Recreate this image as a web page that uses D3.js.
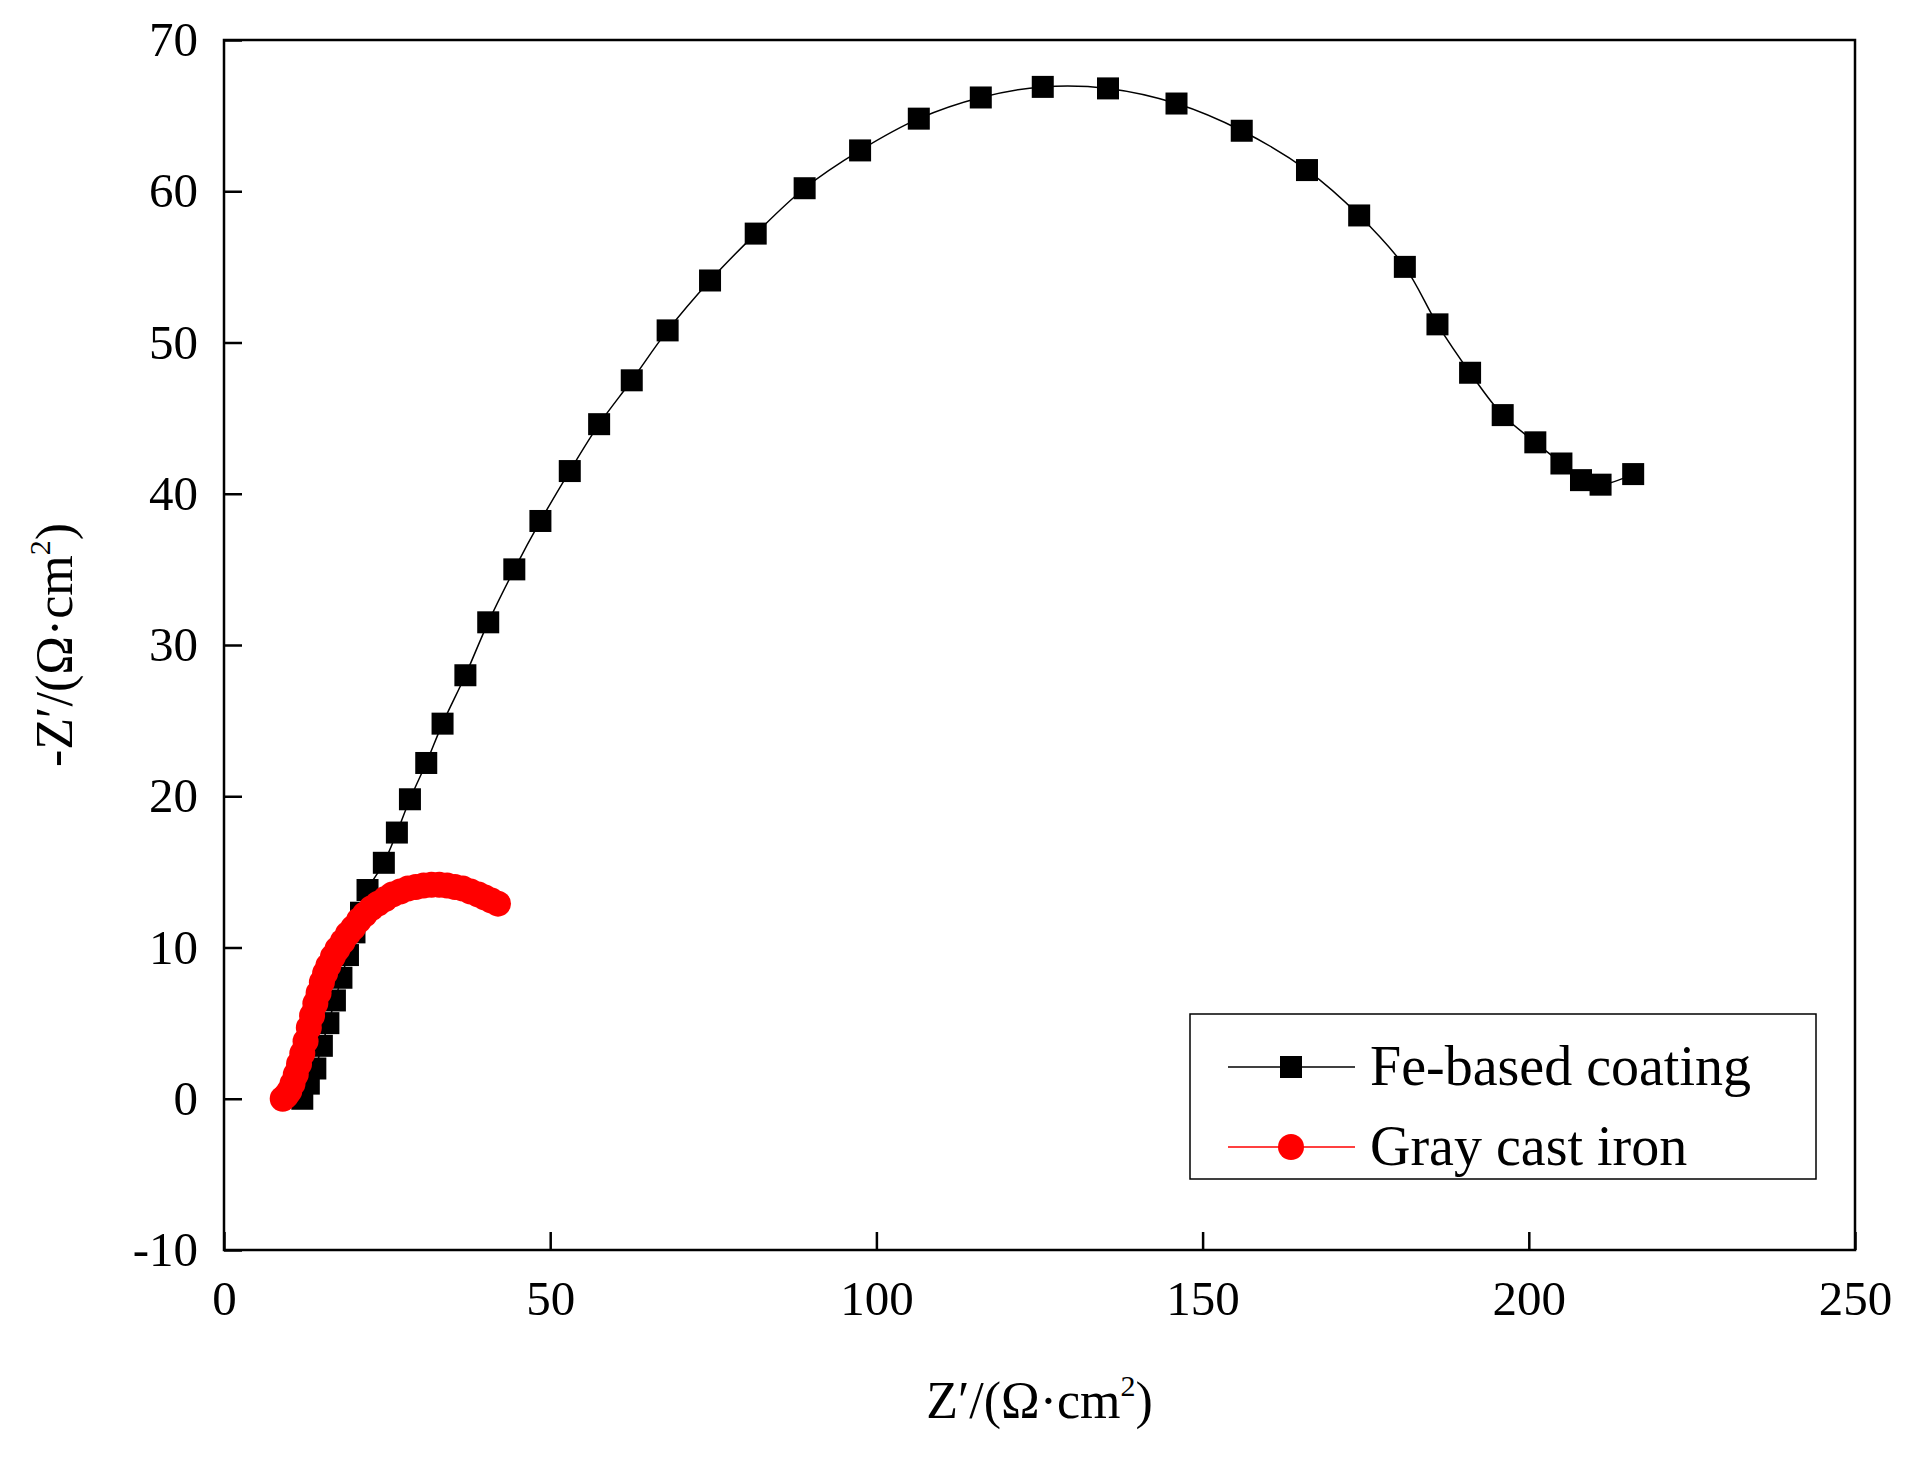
<!DOCTYPE html>
<html>
<head>
<meta charset="UTF-8">
<script src="https://cdn.jsdelivr.net/npm/d3@7"></script>
<style>
  body { margin: 0; background: #fff; }
  text { font-family: "Liberation Serif", "DejaVu Serif", serif; }
</style>
</head>
<body>
<script>
  // Fe-based coating
  const feX = [12,13,14,15,16,17,18,19,20,21,22,24.5,26.5,28.5,31,33.5,37,40.5,44.5,48.5,53,57.5,62.5,68,74.5,81.5,89,97.5,106.5,116,125.5,135.5,146,156,166,174,181,186,191,196,201,205,208,211,216];
  const feY = [0,1,2,3.5,5,6.5,8,9.5,11,12.3,13.8,15.6,17.6,19.8,22.2,24.8,28,31.5,35,38.2,41.5,44.6,47.5,50.8,54.1,57.2,60.2,62.7,64.8,66.2,66.9,66.8,65.8,64,61.4,58.4,55,51.2,48,45.2,43.4,42,40.9,40.6,41.3];
  // Gray cast iron
  const giX = [9,9.5,10,10.5,11,11.5,12,12.5,13,13.5,14,14.5,15,15.5,16,16.7,17.4,18.2,19,19.8,20.7,21.6,22.6,23.6,24.7,25.8,27,28.2,29.4,30.6,31.8,33,34.2,35.4,36.6,37.8,39,40,41,42];
  const giY = [0,0.2,0.5,1,1.6,2.3,3,3.8,4.7,5.5,6.3,7,7.7,8.3,8.8,9.4,9.9,10.4,10.9,11.3,11.8,12.2,12.6,12.9,13.2,13.5,13.7,13.9,14.0,14.1,14.15,14.15,14.1,14.0,13.9,13.7,13.5,13.3,13.1,12.9];
  const xTicks = [0,50,100,150,200,250];
  const yTicks = [-10,0,10,20,30,40,50,60,70];

  const W = 1910, H = 1462;
  const m = {left: 224, right: 1855, top: 40, bottom: 1250};
  const svg = d3.select('body').append('svg').attr('width', W).attr('height', H);
  const x = d3.scaleLinear().domain([0, 250]).range([m.left, m.right]);
  const y = d3.scaleLinear().domain([-10, 70]).range([m.bottom, m.top]);

  // frame
  svg.append('rect').attr('x', m.left).attr('y', m.top)
    .attr('width', m.right - m.left).attr('height', m.bottom - m.top)
    .attr('fill', 'none').attr('stroke', '#000').attr('stroke-width', 2.5);

  // ticks (inward)
  const gx = svg.append('g').attr('transform', `translate(0,${m.bottom})`);
  gx.call(d3.axisBottom(x).tickValues(d3.range(0, 251, 25)).tickSize(-10).tickFormat(''))
    .call(g => g.select('.domain').remove());
  gx.call(d3.axisBottom(x).tickValues(xTicks).tickSize(-18).tickPadding(30).tickFormat(d => String(d)))
    .call(g => g.select('.domain').remove());
  gx.selectAll('line').attr('stroke-width', 2.5);
  gx.selectAll('text').attr('font-size', 49).attr('fill', '#000');

  const gy = svg.append('g').attr('transform', `translate(${m.left},0)`);
  gy.call(d3.axisLeft(y).tickValues(d3.range(-10, 71, 5)).tickSize(-10).tickFormat(''))
    .call(g => g.select('.domain').remove());
  gy.call(d3.axisLeft(y).tickValues(yTicks).tickSize(-18).tickPadding(26).tickFormat(d => String(d)))
    .call(g => g.select('.domain').remove());
  gy.selectAll('line').attr('stroke-width', 2.5);
  gy.selectAll('text').attr('font-size', 49).attr('fill', '#000');

  // axis titles
  const xt = svg.append('text').attr('x', (m.left + m.right) / 2).attr('y', 1418)
    .attr('text-anchor', 'middle').attr('font-size', 52);
  xt.append('tspan').text('Z′/(Ω·cm');
  xt.append('tspan').text('2').attr('font-size', 30).attr('dy', -22);
  xt.append('tspan').text(')').attr('dy', 22);

  const yt = svg.append('text').attr('transform', `translate(72,${(m.top + m.bottom) / 2}) rotate(-90)`)
    .attr('text-anchor', 'middle').attr('font-size', 52);
  yt.append('tspan').text('-Z′/(Ω·cm');
  yt.append('tspan').text('2').attr('font-size', 30).attr('dy', -22);
  yt.append('tspan').text(')').attr('dy', 22);

  const fe = feX.map((v, i) => [v, feY[i]]);
  const gi = giX.map((v, i) => [v, giY[i]]);
  const line = d3.line().x(d => x(d[0])).y(d => y(d[1])).curve(d3.curveCatmullRom);

  svg.append('path').datum(fe).attr('d', line).attr('fill', 'none').attr('stroke', '#000').attr('stroke-width', 1.5);
  svg.append('g').selectAll('rect').data(fe).join('rect')
    .attr('x', d => x(d[0]) - 11).attr('y', d => y(d[1]) - 11)
    .attr('width', 22).attr('height', 22).attr('fill', '#000');

  svg.append('path').datum(gi).attr('d', line).attr('fill', 'none').attr('stroke', '#f00').attr('stroke-width', 1.5);
  svg.append('g').selectAll('circle').data(gi).join('circle')
    .attr('cx', d => x(d[0])).attr('cy', d => y(d[1])).attr('r', 13).attr('fill', '#f00');

  // legend
  const lg = svg.append('g').attr('transform', 'translate(1190,1014)');
  lg.append('rect').attr('width', 626).attr('height', 165).attr('fill', '#fff')
    .attr('stroke', '#000').attr('stroke-width', 1.5);
  const items = [['Fe-based coating', '#000', 'sq'], ['Gray cast iron', '#f00', 'ci']];
  items.forEach((it, i) => {
    const cy = 53 + i * 80;
    lg.append('line').attr('x1', 38).attr('x2', 165).attr('y1', cy).attr('y2', cy)
      .attr('stroke', it[1]).attr('stroke-width', 1.5);
    if (it[2] === 'sq') lg.append('rect').attr('x', 90).attr('y', cy - 11).attr('width', 22).attr('height', 22).attr('fill', it[1]);
    else lg.append('circle').attr('cx', 101).attr('cy', cy).attr('r', 13).attr('fill', it[1]);
    lg.append('text').attr('x', 180).attr('y', cy + 18).attr('font-size', 56).text(it[0]);
  });
</script>
</body>
</html>
